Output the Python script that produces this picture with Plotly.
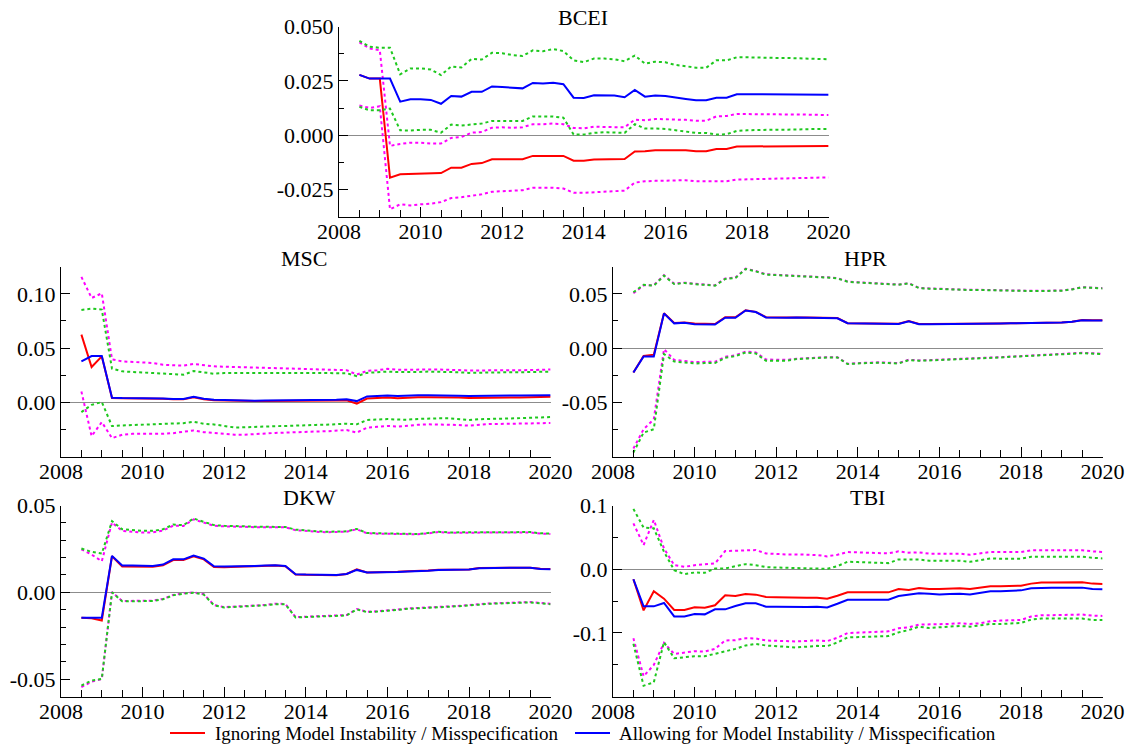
import plotly.graph_objects as go

# ---------------- data (quarterly, 2008Q3 .. 2020Q1) ----------------
N = 47
dates = [2008.5 + 0.25 * i for i in range(N)]

# BCEI
bcei_all = [0.0278, 0.0261, 0.0261, 0.0261, 0.0155, 0.0166,
            0.0166, 0.0163, 0.0145, 0.0181, 0.0178, 0.0200, 0.0200, 0.0225,
            0.0222, 0.0220, 0.0216, 0.0241, 0.0238, 0.0242, 0.0235, 0.0173,
            0.0172, 0.0184, 0.0184, 0.0183, 0.0175, 0.0209, 0.0178, 0.0183,
            0.0181, 0.0173, 0.0167, 0.0161, 0.0161, 0.0173, 0.0173, 0.0189,
            0.0189, 0.0189, 0.0189, 0.0190, 0.0190, 0.0189, 0.0188, 0.0187,
            0.0187]
bcei_ign = [0.0278, 0.0261, 0.0261, -0.0195, -0.0180, -0.0178,
            -0.0178, -0.0177, -0.0174, -0.0149, -0.0149, -0.0132, -0.0128, -0.0111,
            -0.0111, -0.0111, -0.0110, -0.0095, -0.0095, -0.0095, -0.0095, -0.0117,
            -0.0117, -0.0112, -0.0110, -0.0110, -0.0109, -0.0075, -0.0074, -0.0069,
            -0.0069, -0.0069, -0.0069, -0.0074, -0.0074, -0.0063, -0.0063, -0.0052,
            -0.0052, -0.0051, -0.0050, -0.0050, -0.0050, -0.0050, -0.0050, -0.0049,
            -0.0049]
bcei_all_hi = [0.0435, 0.0408, 0.0403, 0.0403, 0.0281, 0.0308,
               0.0308, 0.0303, 0.0277, 0.0317, 0.0312, 0.0352, 0.0349, 0.0380,
               0.0378, 0.0369, 0.0365, 0.0391, 0.0387, 0.0397, 0.0388, 0.0345,
               0.0337, 0.0353, 0.0353, 0.0350, 0.0341, 0.0367, 0.0330, 0.0339,
               0.0336, 0.0324, 0.0318, 0.0311, 0.0311, 0.0345, 0.0345, 0.0359,
               0.0359, 0.0357, 0.0356, 0.0356, 0.0356, 0.0355, 0.0353, 0.0351,
               0.0350]
bcei_all_lo = [0.0131, 0.0115, 0.0115, 0.0123, 0.0023, 0.0022,
               0.0025, 0.0025, 0.0012, 0.0049, 0.0045, 0.0049, 0.0054, 0.0066,
               0.0066, 0.0066, 0.0066, 0.0087, 0.0087, 0.0086, 0.0081, 0.0003,
               0.0003, 0.0011, 0.0014, 0.0014, 0.0011, 0.0051, 0.0031, 0.0031,
               0.0029, 0.0023, 0.0017, 0.0011, 0.0011, 0.0003, 0.0005, 0.0020,
               0.0023, 0.0025, 0.0026, 0.0026, 0.0026, 0.0028, 0.0028, 0.0029,
               0.0029]
bcei_ign_hi = [0.0428, 0.0400, 0.0392, -0.0049, -0.0040, -0.0034,
               -0.0034, -0.0038, -0.0038, -0.0012, -0.0008, 0.0012, 0.0015, 0.0035,
               0.0037, 0.0034, 0.0037, 0.0051, 0.0051, 0.0054, 0.0051, 0.0034,
               0.0032, 0.0040, 0.0038, 0.0037, 0.0037, 0.0072, 0.0069, 0.0075,
               0.0074, 0.0072, 0.0071, 0.0067, 0.0067, 0.0087, 0.0089, 0.0098,
               0.0098, 0.0098, 0.0097, 0.0097, 0.0097, 0.0095, 0.0095, 0.0094,
               0.0093]
bcei_ign_lo = [0.0137, 0.0126, 0.0134, -0.0341, -0.0318, -0.0323,
               -0.0318, -0.0315, -0.0308, -0.0289, -0.0285, -0.0278, -0.0272, -0.0260,
               -0.0257, -0.0255, -0.0253, -0.0242, -0.0241, -0.0242, -0.0245, -0.0265,
               -0.0265, -0.0262, -0.0261, -0.0259, -0.0255, -0.0218, -0.0212, -0.0210,
               -0.0209, -0.0207, -0.0207, -0.0212, -0.0212, -0.0213, -0.0212, -0.0204,
               -0.0203, -0.0202, -0.0201, -0.0201, -0.0200, -0.0199, -0.0198, -0.0196,
               -0.0194]

# MSC
msc_all = [0.0378, 0.0427, 0.0427, 0.0043, 0.0040, 0.0040,
           0.0040, 0.0037, 0.0037, 0.0031, 0.0031, 0.0052, 0.0034, 0.0025,
           0.0022, 0.0018, 0.0015, 0.0015, 0.0018, 0.0018, 0.0018, 0.0021,
           0.0024, 0.0021, 0.0021, 0.0024, 0.0028, 0.0012, 0.0055, 0.0058,
           0.0064, 0.0058, 0.0064, 0.0067, 0.0067, 0.0067, 0.0064, 0.0061,
           0.0058, 0.0061, 0.0064, 0.0064, 0.0064, 0.0064, 0.0064, 0.0067,
           0.0067]
msc_ign = [0.0624, 0.0326, 0.0424, 0.0040, 0.0038, 0.0038,
           0.0037, 0.0035, 0.0033, 0.0028, 0.0028, 0.0048, 0.0030, 0.0021,
           0.0018, 0.0015, 0.0012, 0.0012, 0.0013, 0.0013, 0.0013, 0.0015,
           0.0017, 0.0015, 0.0015, 0.0017, 0.0020, -0.0012, 0.0035, 0.0038,
           0.0045, 0.0038, 0.0045, 0.0048, 0.0048, 0.0048, 0.0047, 0.0045,
           0.0040, 0.0043, 0.0045, 0.0045, 0.0045, 0.0046, 0.0047, 0.0052,
           0.0052]
msc_all_hi = [0.0852, 0.0864, 0.0855, 0.0311, 0.0286, 0.0280,
              0.0274, 0.0274, 0.0264, 0.0258, 0.0255, 0.0289, 0.0277, 0.0264,
              0.0271, 0.0272, 0.0275, 0.0274, 0.0272, 0.0272, 0.0272, 0.0272,
              0.0272, 0.0271, 0.0271, 0.0270, 0.0269, 0.0242, 0.0272, 0.0278,
              0.0284, 0.0280, 0.0278, 0.0280, 0.0284, 0.0284, 0.0284, 0.0278,
              0.0272, 0.0275, 0.0278, 0.0278, 0.0278, 0.0278, 0.0278, 0.0281,
              0.0284]
msc_all_lo = [-0.0089, -0.0022, 0.0003, -0.0218, -0.0212, -0.0209,
              -0.0206, -0.0203, -0.0203, -0.0197, -0.0191, -0.0178, -0.0197, -0.0203,
              -0.0218, -0.0231, -0.0229, -0.0224, -0.0220, -0.0219, -0.0217, -0.0212,
              -0.0208, -0.0207, -0.0205, -0.0200, -0.0196, -0.0202, -0.0162, -0.0158,
              -0.0153, -0.0158, -0.0159, -0.0152, -0.0147, -0.0147, -0.0147, -0.0155,
              -0.0162, -0.0155, -0.0150, -0.0150, -0.0148, -0.0145, -0.0141, -0.0138,
              -0.0135]
msc_ign_hi = [0.1156, 0.0962, 0.1005, 0.0397, 0.0378, 0.0372,
              0.0369, 0.0363, 0.0347, 0.0341, 0.0338, 0.0354, 0.0341, 0.0332,
              0.0329, 0.0326, 0.0327, 0.0322, 0.0318, 0.0315, 0.0312, 0.0308,
              0.0303, 0.0302, 0.0300, 0.0299, 0.0297, 0.0257, 0.0290, 0.0297,
              0.0309, 0.0300, 0.0303, 0.0303, 0.0303, 0.0303, 0.0303, 0.0298,
              0.0294, 0.0296, 0.0297, 0.0297, 0.0297, 0.0297, 0.0298, 0.0300,
              0.0303]
msc_ign_lo = [0.0101, -0.0311, -0.0181, -0.0329, -0.0298, -0.0289,
              -0.0289, -0.0292, -0.0289, -0.0283, -0.0274, -0.0258, -0.0274, -0.0283,
              -0.0289, -0.0298, -0.0297, -0.0290, -0.0284, -0.0281, -0.0278, -0.0273,
              -0.0269, -0.0268, -0.0266, -0.0260, -0.0254, -0.0278, -0.0232, -0.0225,
              -0.0217, -0.0222, -0.0211, -0.0206, -0.0202, -0.0202, -0.0202, -0.0208,
              -0.0214, -0.0206, -0.0199, -0.0198, -0.0196, -0.0195, -0.0194, -0.0192,
              -0.0190]

# HPR
hpr_all = [-0.0224, -0.0077, -0.0077, 0.0320, 0.0228, 0.0234,
           0.0221, 0.0221, 0.0218, 0.0280, 0.0280, 0.0347, 0.0332, 0.0283,
           0.0280, 0.0280, 0.0281, 0.0281, 0.0281, 0.0280, 0.0275, 0.0229,
           0.0229, 0.0229, 0.0229, 0.0228, 0.0223, 0.0248, 0.0220, 0.0221,
           0.0221, 0.0221, 0.0222, 0.0222, 0.0223, 0.0225, 0.0226, 0.0228,
           0.0229, 0.0230, 0.0232, 0.0233, 0.0235, 0.0242, 0.0257, 0.0254,
           0.0254]
hpr_ign = [-0.0224, -0.0072, -0.0060, 0.0322, 0.0231, 0.0236,
           0.0226, 0.0226, 0.0222, 0.0284, 0.0284, 0.0349, 0.0334, 0.0285,
           0.0282, 0.0282, 0.0283, 0.0283, 0.0283, 0.0282, 0.0277, 0.0230,
           0.0230, 0.0230, 0.0230, 0.0229, 0.0224, 0.0250, 0.0222, 0.0223,
           0.0223, 0.0222, 0.0223, 0.0223, 0.0224, 0.0226, 0.0227, 0.0229,
           0.0230, 0.0231, 0.0233, 0.0234, 0.0236, 0.0243, 0.0258, 0.0256,
           0.0256]
hpr_all_hi = [0.0514, 0.0584, 0.0575, 0.0667, 0.0590, 0.0600,
              0.0590, 0.0584, 0.0575, 0.0637, 0.0646, 0.0729, 0.0707, 0.0677,
              0.0673, 0.0667, 0.0667, 0.0662, 0.0657, 0.0650, 0.0642, 0.0612,
              0.0605, 0.0600, 0.0596, 0.0590, 0.0584, 0.0596, 0.0553, 0.0548,
              0.0544, 0.0540, 0.0535, 0.0535, 0.0535, 0.0532, 0.0529, 0.0527,
              0.0526, 0.0526, 0.0526, 0.0527, 0.0529, 0.0541, 0.0560, 0.0555,
              0.0550]
hpr_all_lo = [-0.0962, -0.0778, -0.0747, -0.0055, -0.0123, -0.0132,
              -0.0141, -0.0138, -0.0138, -0.0089, -0.0074, -0.0040, -0.0049, -0.0117,
              -0.0117, -0.0117, -0.0101, -0.0095, -0.0092, -0.0086, -0.0086, -0.0147,
              -0.0141, -0.0138, -0.0134, -0.0138, -0.0141, -0.0110, -0.0116, -0.0113,
              -0.0110, -0.0104, -0.0098, -0.0095, -0.0092, -0.0089, -0.0086, -0.0080,
              -0.0076, -0.0072, -0.0067, -0.0064, -0.0061, -0.0052, -0.0046, -0.0050,
              -0.0055]
hpr_ign_hi = [0.0505, 0.0578, 0.0580, 0.0672, 0.0594, 0.0603,
              0.0594, 0.0588, 0.0579, 0.0641, 0.0650, 0.0732, 0.0710, 0.0680,
              0.0676, 0.0670, 0.0669, 0.0664, 0.0659, 0.0652, 0.0644, 0.0614,
              0.0607, 0.0602, 0.0598, 0.0592, 0.0586, 0.0598, 0.0555, 0.0550,
              0.0546, 0.0542, 0.0537, 0.0537, 0.0537, 0.0534, 0.0531, 0.0529,
              0.0528, 0.0528, 0.0528, 0.0529, 0.0531, 0.0543, 0.0562, 0.0557,
              0.0552]
hpr_ign_lo = [-0.0925, -0.0747, -0.0655, -0.0010, -0.0108, -0.0120,
              -0.0129, -0.0126, -0.0126, -0.0080, -0.0066, -0.0032, -0.0040, -0.0105,
              -0.0108, -0.0108, -0.0098, -0.0092, -0.0089, -0.0083, -0.0083, -0.0144,
              -0.0138, -0.0134, -0.0131, -0.0134, -0.0138, -0.0107, -0.0113, -0.0110,
              -0.0107, -0.0101, -0.0095, -0.0092, -0.0089, -0.0086, -0.0083, -0.0078,
              -0.0073, -0.0069, -0.0064, -0.0061, -0.0058, -0.0049, -0.0043, -0.0047,
              -0.0052]

# DKW
dkw_all = [-0.0146, -0.0146, -0.0146, 0.0210, 0.0154, 0.0154,
           0.0152, 0.0152, 0.0160, 0.0190, 0.0190, 0.0212, 0.0194, 0.0150,
           0.0148, 0.0148, 0.0151, 0.0152, 0.0154, 0.0156, 0.0152, 0.0104,
           0.0102, 0.0101, 0.0100, 0.0100, 0.0106, 0.0129, 0.0114, 0.0114,
           0.0114, 0.0117, 0.0120, 0.0120, 0.0124, 0.0129, 0.0131, 0.0131,
           0.0131, 0.0139, 0.0141, 0.0141, 0.0141, 0.0141, 0.0141, 0.0135,
           0.0133]
dkw_ign = [-0.0146, -0.0150, -0.0162, 0.0208, 0.0149, 0.0149,
           0.0147, 0.0147, 0.0155, 0.0186, 0.0186, 0.0208, 0.0190, 0.0146,
           0.0145, 0.0145, 0.0148, 0.0150, 0.0152, 0.0154, 0.0150, 0.0102,
           0.0101, 0.0100, 0.0099, 0.0099, 0.0106, 0.0133, 0.0114, 0.0114,
           0.0115, 0.0118, 0.0121, 0.0121, 0.0125, 0.0130, 0.0132, 0.0132,
           0.0132, 0.0140, 0.0142, 0.0142, 0.0142, 0.0142, 0.0142, 0.0136,
           0.0134]
dkw_all_hi = [0.0252, 0.0233, 0.0223, 0.0410, 0.0363, 0.0358,
              0.0354, 0.0354, 0.0363, 0.0390, 0.0387, 0.0425, 0.0406, 0.0387,
              0.0383, 0.0383, 0.0380, 0.0378, 0.0376, 0.0378, 0.0376, 0.0361,
              0.0355, 0.0352, 0.0349, 0.0350, 0.0351, 0.0365, 0.0342, 0.0340,
              0.0338, 0.0338, 0.0338, 0.0336, 0.0342, 0.0349, 0.0345, 0.0345,
              0.0345, 0.0349, 0.0347, 0.0347, 0.0347, 0.0347, 0.0347, 0.0340,
              0.0338]
dkw_all_lo = [-0.0537, -0.0508, -0.0498, 0.0000, -0.0052, -0.0050,
              -0.0050, -0.0050, -0.0040, -0.0017, -0.0008, -0.0002, -0.0013, -0.0075,
              -0.0087, -0.0085, -0.0083, -0.0079, -0.0075, -0.0068, -0.0069, -0.0145,
              -0.0143, -0.0142, -0.0141, -0.0137, -0.0133, -0.0098, -0.0114, -0.0111,
              -0.0108, -0.0101, -0.0095, -0.0093, -0.0091, -0.0087, -0.0083, -0.0080,
              -0.0077, -0.0071, -0.0066, -0.0064, -0.0062, -0.0060, -0.0058, -0.0063,
              -0.0068]
dkw_ign_hi = [0.0248, 0.0217, 0.0179, 0.0402, 0.0354, 0.0348,
              0.0344, 0.0345, 0.0356, 0.0384, 0.0382, 0.0420, 0.0402, 0.0383,
              0.0380, 0.0380, 0.0377, 0.0375, 0.0374, 0.0376, 0.0374, 0.0358,
              0.0352, 0.0349, 0.0346, 0.0347, 0.0349, 0.0363, 0.0340, 0.0338,
              0.0336, 0.0336, 0.0336, 0.0334, 0.0340, 0.0347, 0.0343, 0.0343,
              0.0343, 0.0347, 0.0345, 0.0345, 0.0345, 0.0345, 0.0345, 0.0338,
              0.0336]
dkw_ign_lo = [-0.0546, -0.0515, -0.0500, 0.0002, -0.0050, -0.0048,
              -0.0048, -0.0048, -0.0038, -0.0015, -0.0006, 0.0000, -0.0011, -0.0073,
              -0.0085, -0.0083, -0.0081, -0.0077, -0.0073, -0.0066, -0.0067, -0.0143,
              -0.0141, -0.0140, -0.0139, -0.0135, -0.0131, -0.0096, -0.0112, -0.0109,
              -0.0106, -0.0099, -0.0093, -0.0091, -0.0089, -0.0085, -0.0081, -0.0078,
              -0.0075, -0.0069, -0.0064, -0.0062, -0.0060, -0.0058, -0.0056, -0.0061,
              -0.0066]

# TBI
tbi_all = [-0.0158, -0.0584, -0.0584, -0.0531, -0.0742, -0.0742,
           -0.0705, -0.0710, -0.0631, -0.0631, -0.0579, -0.0537, -0.0537, -0.0589,
           -0.0589, -0.0594, -0.0597, -0.0594, -0.0591, -0.0602, -0.0544, -0.0480,
           -0.0480, -0.0480, -0.0480, -0.0480, -0.0422, -0.0396, -0.0380, -0.0388,
           -0.0396, -0.0390, -0.0385, -0.0396, -0.0370, -0.0348, -0.0348, -0.0340,
           -0.0333, -0.0301, -0.0290, -0.0290, -0.0290, -0.0290, -0.0290, -0.0312,
           -0.0317]
tbi_ign = [-0.0158, -0.0647, -0.0347, -0.0463, -0.0642, -0.0642,
           -0.0600, -0.0605, -0.0568, -0.0410, -0.0421, -0.0389, -0.0400, -0.0437,
           -0.0442, -0.0447, -0.0449, -0.0449, -0.0449, -0.0465, -0.0417, -0.0364,
           -0.0364, -0.0364, -0.0364, -0.0364, -0.0312, -0.0327, -0.0296, -0.0312,
           -0.0312, -0.0306, -0.0301, -0.0312, -0.0290, -0.0269, -0.0269, -0.0259,
           -0.0259, -0.0227, -0.0211, -0.0211, -0.0211, -0.0211, -0.0206, -0.0227,
           -0.0232]
tbi_ign_hi = [0.0720, 0.0379, 0.0773, 0.0326, 0.0063, 0.0037,
              0.0063, 0.0074, 0.0089, 0.0284, 0.0289, 0.0305, 0.0300, 0.0247,
              0.0237, 0.0231, 0.0232, 0.0227, 0.0222, 0.0201, 0.0227, 0.0269,
              0.0264, 0.0258, 0.0253, 0.0248, 0.0280, 0.0259, 0.0264, 0.0243,
              0.0243, 0.0243, 0.0243, 0.0227, 0.0243, 0.0269, 0.0269, 0.0269,
              0.0269, 0.0296, 0.0296, 0.0296, 0.0296, 0.0296, 0.0296, 0.0280,
              0.0269]
tbi_all_hi = [0.0947, 0.0652, 0.0642, 0.0274, -0.0016, -0.0079,
              -0.0053, -0.0058, 0.0011, 0.0011, 0.0047, 0.0079, 0.0063, 0.0032,
              0.0026, 0.0021, 0.0016, 0.0013, 0.0011, 0.0005, 0.0048, 0.0116,
              0.0111, 0.0105, 0.0100, 0.0095, 0.0153, 0.0158, 0.0153, 0.0132,
              0.0132, 0.0132, 0.0132, 0.0116, 0.0143, 0.0169, 0.0164, 0.0164,
              0.0164, 0.0195, 0.0195, 0.0195, 0.0195, 0.0195, 0.0195, 0.0180,
              0.0169]
tbi_ign_lo = [-0.1084, -0.1683, -0.1504, -0.1157, -0.1331, -0.1315,
              -0.1289, -0.1294, -0.1252, -0.1120, -0.1115, -0.1084, -0.1089, -0.1120,
              -0.1126, -0.1131, -0.1135, -0.1127, -0.1119, -0.1130, -0.1077, -0.1003,
              -0.0998, -0.0990, -0.0982, -0.0977, -0.0929, -0.0913, -0.0871, -0.0871,
              -0.0871, -0.0860, -0.0850, -0.0860, -0.0850, -0.0818, -0.0808, -0.0803,
              -0.0797, -0.0744, -0.0723, -0.0723, -0.0723, -0.0720, -0.0713, -0.0729,
              -0.0734]
tbi_all_lo = [-0.1173, -0.1830, -0.1778, -0.1147, -0.1399, -0.1383,
              -0.1368, -0.1368, -0.1331, -0.1294, -0.1252, -0.1199, -0.1173, -0.1199,
              -0.1210, -0.1220, -0.1230, -0.1217, -0.1204, -0.1209, -0.1151, -0.1072,
              -0.1067, -0.1062, -0.1056, -0.1051, -0.0993, -0.0956, -0.0903, -0.0924,
              -0.0913, -0.0903, -0.0892, -0.0903, -0.0887, -0.0861, -0.0861, -0.0853,
              -0.0845, -0.0792, -0.0776, -0.0776, -0.0776, -0.0776, -0.0776, -0.0797,
              -0.0797]

# tick labels
bcei_ticks = [0.05, 0.025, 0.0, -0.025]
bcei_ticktext = ["0.050", "0.025", "0.000", "-0.025"]
msc_ticks = [0.10, 0.05, 0.0]
msc_ticktext = ["0.10", "0.05", "0.00"]
hpr_ticks = [0.05, 0.0, -0.05]
hpr_ticktext = ["0.05", "0.00", "-0.05"]
dkw_ticks = [0.05, 0.0, -0.05]
dkw_ticktext = ["0.05", "0.00", "-0.05"]
tbi_ticks = [0.1, 0.0, -0.1]
tbi_ticktext = ["0.1", "0.0", "-0.1"]
year_ticks = [2008, 2010, 2012, 2014, 2016, 2018, 2020]

legend_ign = "Ignoring Model Instability / Misspecification"
legend_all = "Allowing for Model Instability / Misspecification"

for arr in [bcei_all, bcei_ign, bcei_all_hi, bcei_all_lo, bcei_ign_hi, bcei_ign_lo,
            msc_all, msc_ign, msc_all_hi, msc_all_lo, msc_ign_hi, msc_ign_lo,
            hpr_all, hpr_ign, hpr_all_hi, hpr_all_lo, hpr_ign_hi, hpr_ign_lo,
            dkw_all, dkw_ign, dkw_all_hi, dkw_all_lo, dkw_ign_hi, dkw_ign_lo,
            tbi_all, tbi_ign, tbi_all_hi, tbi_all_lo, tbi_ign_hi, tbi_ign_lo]:
    assert len(arr) == N, len(arr)

# ---------------- styling ----------------
W, H = 1130, 744
FONT = "Liberation Serif, Times New Roman, Times, serif"
TICKSIZE = 22
RED = "#ff0000"
BLUE = "#0000ff"
MAG = "#ff00ff"
GRN = "#1ec81e"

panels = [
    ("BCEI", (bcei_ign, bcei_ign_hi, bcei_ign_lo, bcei_all, bcei_all_hi, bcei_all_lo),
     (339, 828.6), (26.7, 216.7), (-0.0375, 0.05), bcei_ticks, bcei_ticktext, 0.0125, (583, 18)),
    ("MSC", (msc_ign, msc_ign_hi, msc_ign_lo, msc_all, msc_all_hi, msc_all_lo),
     (61, 550.6), (266.7, 456.7), (-0.05, 0.125), msc_ticks, msc_ticktext, 0.025, (304, 258)),
    ("HPR", (hpr_ign, hpr_ign_hi, hpr_ign_lo, hpr_all, hpr_all_hi, hpr_all_lo),
     (613, 1102.6), (266.7, 456.7), (-0.1, 0.075), hpr_ticks, hpr_ticktext, 0.025, (865, 258)),
    ("DKW", (dkw_ign, dkw_ign_hi, dkw_ign_lo, dkw_all, dkw_all_hi, dkw_all_lo),
     (61, 550.6), (505.5, 696.5), (-0.06, 0.05), dkw_ticks, dkw_ticktext, 0.01, (309, 498)),
    ("TBI", (tbi_ign, tbi_ign_hi, tbi_ign_lo, tbi_all, tbi_all_hi, tbi_all_lo),
     (613, 1102.6), (505.5, 696.5), (-0.2, 0.1), tbi_ticks, tbi_ticktext, 0.05, (867, 498)),
]

fig = go.Figure()
layout = dict(template="none", width=W, height=H, margin=dict(l=0, r=0, t=0, b=0, pad=0),
              paper_bgcolor="white", plot_bgcolor="white", showlegend=False,
              font=dict(family=FONT, size=20, color="black"))
annotations = []
shapes = []

for k, (name, ser, xpx, ypx, yr, tv, tt, mdt, tpos) in enumerate(panels):
    n = "" if k == 0 else str(k + 1)
    xa, ya = "x" + n, "y" + n
    ign, ign_hi, ign_lo, alw, alw_hi, alw_lo = ser
    for yv, col, dash in [(ign_hi, MAG, "dot"), (ign_lo, MAG, "dot"),
                          (ign, RED, "solid"),
                          (alw_hi, GRN, "dot"), (alw_lo, GRN, "dot"),
                          (alw, BLUE, "solid")]:
        fig.add_trace(go.Scatter(x=dates, y=yv, mode="lines", xaxis=xa, yaxis=ya,
                                 line=dict(color=col, width=2, dash=dash),
                                 hoverinfo="skip"))
    layout["xaxis" + n] = dict(
        domain=[xpx[0] / W, xpx[1] / W], anchor=ya, range=[2008, 2020], automargin=False,
        tickmode="array", tickvals=year_ticks, ticks="inside", ticklen=10,
        tickcolor="black", tickwidth=1, showline=True, linecolor="black", linewidth=1,
        showgrid=False, zeroline=False, tickfont=dict(family=FONT, size=TICKSIZE, color="black"),
        ticklabelstandoff=-5,
        minor=dict(tickmode="linear", tick0=2008, dtick=0.5, ticks="inside", ticklen=7,
                   tickcolor="black", tickwidth=1, showgrid=False),
        fixedrange=True)
    layout["yaxis" + n] = dict(
        domain=[1 - ypx[1] / H, 1 - ypx[0] / H], anchor=xa, range=list(yr), automargin=False,
        tickmode="array", tickvals=tv, ticktext=tt, ticks="inside", ticklen=9,
        tickcolor="black", tickwidth=1, showline=True, linecolor="black", linewidth=1,
        showgrid=False, zeroline=True, zerolinecolor="#8c8c8c", zerolinewidth=1,
        tickfont=dict(family=FONT, size=TICKSIZE, color="black"),
        minor=dict(tickmode="linear", tick0=0, dtick=mdt, ticks="inside", ticklen=5,
                   tickcolor="black", tickwidth=1, showgrid=False),
        fixedrange=True)
    annotations.append(dict(text=name, x=tpos[0] / W, y=1 - tpos[1] / H,
                            xref="paper", yref="paper", xanchor="center", yanchor="middle",
                            showarrow=False, font=dict(family=FONT, size=22, color="black")))

# legend (drawn manually at the bottom)
LY = 1 - 733 / H
shapes.append(dict(type="line", xref="paper", yref="paper", x0=170 / W, x1=205 / W,
                   y0=LY, y1=LY, line=dict(color=RED, width=2)))
shapes.append(dict(type="line", xref="paper", yref="paper", x0=575 / W, x1=610 / W,
                   y0=LY, y1=LY, line=dict(color=BLUE, width=2)))
annotations.append(dict(text=legend_ign, x=213 / W, y=LY, xref="paper", yref="paper",
                        xanchor="left", yanchor="middle", showarrow=False,
                        font=dict(family=FONT, size=19, color="black")))
annotations.append(dict(text=legend_all, x=617 / W, y=LY, xref="paper", yref="paper",
                        xanchor="left", yanchor="middle", showarrow=False,
                        font=dict(family=FONT, size=19, color="black")))

layout["annotations"] = annotations
layout["shapes"] = shapes
fig.update_layout(**layout)
fig.write_html("out.html",
               config={"displayModeBar": False, "staticPlot": True},
               post_script="document.body.style.margin='0';document.body.style.padding='0';"
                           "document.body.style.overflow='hidden';")
